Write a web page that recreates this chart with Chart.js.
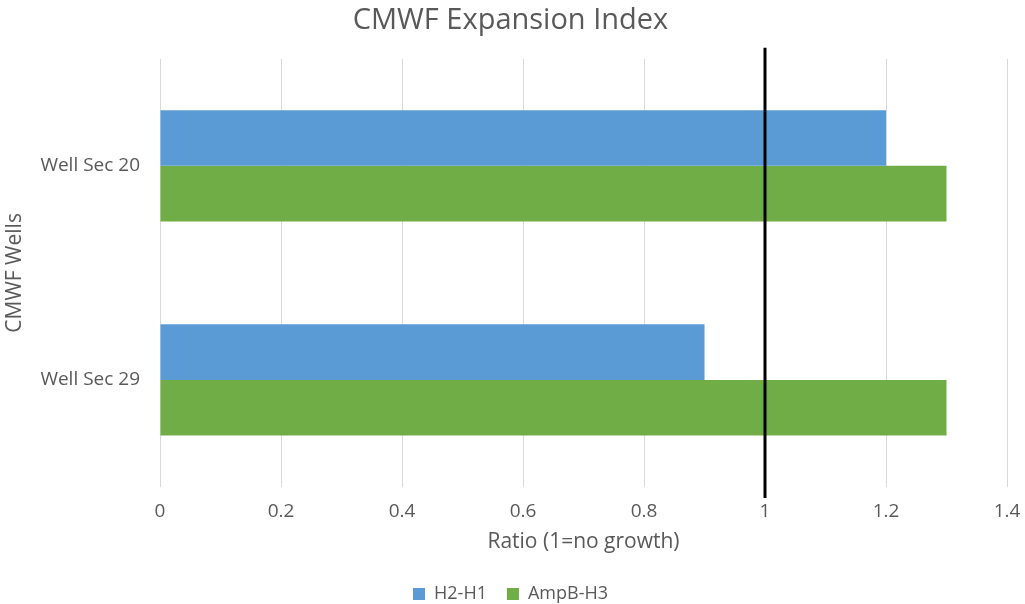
<!DOCTYPE html>
<html>
<head>
<meta charset="utf-8">
<script src="https://cdn.jsdelivr.net/npm/chart.js@4/dist/chart.umd.min.js"></script>
<style>
  html, body { margin: 0; padding: 0; background: #fff; }
  #wrap { width: 1025px; height: 604px; position: relative; }
</style>
</head>
<body>
<div id="wrap"><canvas id="chart"></canvas></div>
<script>
// Well categories and the two expansion ratios per well
const wells = ['Well Sec 20', 'Well Sec 29'];
const h2h1 = [1.2, 0.9];
const ampbH3 = [1.3, 1.3];
const seriesNames = ['H2-H1', 'AmpB-H3'];
// Ratio of 1 marks "no growth"
const noGrowthRatio = 1;

const textColor = '#595959';
const fontFamily = "'Open Sans', 'Liberation Sans', sans-serif";

// Black reference line at the no-growth ratio, slightly taller than the plot area
const referenceLine = {
  id: 'referenceLine',
  afterDatasetsDraw(chart) {
    const { ctx, chartArea, scales } = chart;
    const x = scales.x.getPixelForValue(noGrowthRatio);
    ctx.save();
    ctx.strokeStyle = '#000';
    ctx.lineWidth = 3;
    ctx.beginPath();
    ctx.moveTo(x, chartArea.top - 11);
    ctx.lineTo(x, chartArea.bottom + 11);
    ctx.stroke();
    ctx.restore();
  }
};

new Chart(document.getElementById('chart'), {
  type: 'bar',
  data: {
    labels: wells,
    datasets: [
      { label: seriesNames[0], data: h2h1, backgroundColor: '#5B9BD5' },
      { label: seriesNames[1], data: ampbH3, backgroundColor: '#70AD47' }
    ]
  },
  options: {
    indexAxis: 'y',
    responsive: true,
    maintainAspectRatio: false,
    animation: false,
    devicePixelRatio: 1,
    layout: { padding: { left: 14, right: 18, top: 0, bottom: -9 } },
    datasets: {
      bar: { categoryPercentage: 0.52, barPercentage: 1.0 }
    },
    scales: {
      x: {
        min: 0,
        max: 1.4,
        ticks: {
          stepSize: 0.2,
          color: textColor,
          font: { family: fontFamily, size: 19 },
          padding: 13,
          callback: (v) => String(+Number(v).toFixed(1))
        },
        grid: { color: '#d9d9d9', lineWidth: 1, drawTicks: false },
        border: { display: false },
        title: {
          display: true,
          text: 'Ratio (1=no growth)',
          color: textColor,
          font: { family: fontFamily, size: 21 },
          padding: { top: 4, bottom: 10 }
        },
        afterFit(scale) {
          scale.height = 78;
          scale.paddingLeft = 0;
          scale.paddingRight = 0;
        }
      },
      y: {
        ticks: {
          color: textColor,
          font: { family: fontFamily, size: 19 },
          padding: 12
        },
        grid: { display: false },
        border: { display: false },
        title: {
          display: true,
          text: 'CMWF Wells',
          color: textColor,
          font: { family: fontFamily, size: 21 },
          padding: { top: -12, bottom: 4 }
        },
        afterFit(scale) { scale.width = 146; }
      }
    },
    plugins: {
      title: {
        display: true,
        text: 'CMWF Expansion Index',
        color: textColor,
        font: { family: fontFamily, size: 29, weight: 'normal' },
        padding: { top: 3, bottom: 21 }
      },
      legend: {
        position: 'bottom',
        labels: {
          color: textColor,
          font: { family: fontFamily, size: 18 },
          boxWidth: 12,
          boxHeight: 12,
          padding: 20
        }
      },
      tooltip: { enabled: false }
    }
  },
  plugins: [referenceLine]
});
</script>
</body>
</html>
